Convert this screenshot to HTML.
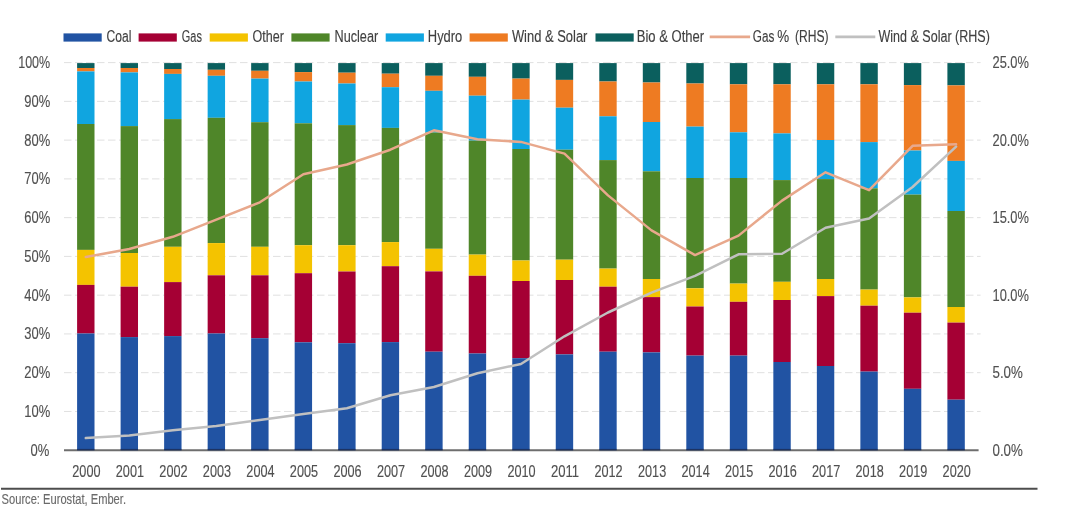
<!DOCTYPE html>
<html><head><meta charset="utf-8"><style>
html,body{margin:0;padding:0;background:#fff;width:1072px;height:520px;overflow:hidden}
text{font-family:"Liberation Sans", sans-serif}
</style></head><body>
<svg width="1072" height="520" viewBox="0 0 1072 520" style="display:block">
<rect width="1072" height="520" fill="#fff"/>
<line x1="64.0" y1="411.44" x2="980.6" y2="411.44" stroke="#e0e0e0" stroke-width="1" stroke-dasharray="7.5 3.5"/>
<line x1="64.0" y1="372.68" x2="980.6" y2="372.68" stroke="#e0e0e0" stroke-width="1" stroke-dasharray="7.5 3.5"/>
<line x1="64.0" y1="333.92" x2="980.6" y2="333.92" stroke="#e0e0e0" stroke-width="1" stroke-dasharray="7.5 3.5"/>
<line x1="64.0" y1="295.16" x2="980.6" y2="295.16" stroke="#e0e0e0" stroke-width="1" stroke-dasharray="7.5 3.5"/>
<line x1="64.0" y1="256.40" x2="980.6" y2="256.40" stroke="#e0e0e0" stroke-width="1" stroke-dasharray="7.5 3.5"/>
<line x1="64.0" y1="217.64" x2="980.6" y2="217.64" stroke="#e0e0e0" stroke-width="1" stroke-dasharray="7.5 3.5"/>
<line x1="64.0" y1="178.88" x2="980.6" y2="178.88" stroke="#e0e0e0" stroke-width="1" stroke-dasharray="7.5 3.5"/>
<line x1="64.0" y1="140.12" x2="980.6" y2="140.12" stroke="#e0e0e0" stroke-width="1" stroke-dasharray="7.5 3.5"/>
<line x1="64.0" y1="101.36" x2="980.6" y2="101.36" stroke="#e0e0e0" stroke-width="1" stroke-dasharray="7.5 3.5"/>
<line x1="64.0" y1="62.60" x2="980.6" y2="62.60" stroke="#e0e0e0" stroke-width="1" stroke-dasharray="7.5 3.5"/>
<rect x="77.10" y="63.10" width="17.4" height="4.90" fill="#0b5f5e"/>
<rect x="77.10" y="68.00" width="17.4" height="3.40" fill="#ee7b22"/>
<rect x="77.10" y="71.40" width="17.4" height="52.60" fill="#10a5e0"/>
<rect x="77.10" y="124.00" width="17.4" height="125.90" fill="#4f8629"/>
<rect x="77.10" y="249.90" width="17.4" height="35.00" fill="#f4c300"/>
<rect x="77.10" y="284.90" width="17.4" height="48.60" fill="#a50034"/>
<rect x="77.10" y="333.50" width="17.4" height="116.70" fill="#2153a3"/>
<rect x="120.61" y="63.10" width="17.4" height="4.90" fill="#0b5f5e"/>
<rect x="120.61" y="68.00" width="17.4" height="4.40" fill="#ee7b22"/>
<rect x="120.61" y="72.40" width="17.4" height="53.70" fill="#10a5e0"/>
<rect x="120.61" y="126.10" width="17.4" height="126.90" fill="#4f8629"/>
<rect x="120.61" y="253.00" width="17.4" height="33.70" fill="#f4c300"/>
<rect x="120.61" y="286.70" width="17.4" height="50.40" fill="#a50034"/>
<rect x="120.61" y="337.10" width="17.4" height="113.10" fill="#2153a3"/>
<rect x="164.13" y="63.10" width="17.4" height="5.90" fill="#0b5f5e"/>
<rect x="164.13" y="69.00" width="17.4" height="4.90" fill="#ee7b22"/>
<rect x="164.13" y="73.90" width="17.4" height="45.20" fill="#10a5e0"/>
<rect x="164.13" y="119.10" width="17.4" height="127.70" fill="#4f8629"/>
<rect x="164.13" y="246.80" width="17.4" height="35.30" fill="#f4c300"/>
<rect x="164.13" y="282.10" width="17.4" height="54.00" fill="#a50034"/>
<rect x="164.13" y="336.10" width="17.4" height="114.10" fill="#2153a3"/>
<rect x="207.65" y="63.10" width="17.4" height="6.70" fill="#0b5f5e"/>
<rect x="207.65" y="69.80" width="17.4" height="6.00" fill="#ee7b22"/>
<rect x="207.65" y="75.80" width="17.4" height="42.00" fill="#10a5e0"/>
<rect x="207.65" y="117.80" width="17.4" height="125.30" fill="#4f8629"/>
<rect x="207.65" y="243.10" width="17.4" height="32.20" fill="#f4c300"/>
<rect x="207.65" y="275.30" width="17.4" height="58.20" fill="#a50034"/>
<rect x="207.65" y="333.50" width="17.4" height="116.70" fill="#2153a3"/>
<rect x="251.16" y="63.10" width="17.4" height="7.70" fill="#0b5f5e"/>
<rect x="251.16" y="70.80" width="17.4" height="7.80" fill="#ee7b22"/>
<rect x="251.16" y="78.60" width="17.4" height="43.60" fill="#10a5e0"/>
<rect x="251.16" y="122.20" width="17.4" height="124.60" fill="#4f8629"/>
<rect x="251.16" y="246.80" width="17.4" height="28.50" fill="#f4c300"/>
<rect x="251.16" y="275.30" width="17.4" height="62.90" fill="#a50034"/>
<rect x="251.16" y="338.20" width="17.4" height="112.00" fill="#2153a3"/>
<rect x="294.67" y="63.10" width="17.4" height="9.00" fill="#0b5f5e"/>
<rect x="294.67" y="72.10" width="17.4" height="9.40" fill="#ee7b22"/>
<rect x="294.67" y="81.50" width="17.4" height="41.80" fill="#10a5e0"/>
<rect x="294.67" y="123.30" width="17.4" height="121.90" fill="#4f8629"/>
<rect x="294.67" y="245.20" width="17.4" height="28.00" fill="#f4c300"/>
<rect x="294.67" y="273.20" width="17.4" height="69.10" fill="#a50034"/>
<rect x="294.67" y="342.30" width="17.4" height="107.90" fill="#2153a3"/>
<rect x="338.19" y="63.10" width="17.4" height="9.60" fill="#0b5f5e"/>
<rect x="338.19" y="72.70" width="17.4" height="10.80" fill="#ee7b22"/>
<rect x="338.19" y="83.50" width="17.4" height="41.60" fill="#10a5e0"/>
<rect x="338.19" y="125.10" width="17.4" height="120.10" fill="#4f8629"/>
<rect x="338.19" y="245.20" width="17.4" height="26.30" fill="#f4c300"/>
<rect x="338.19" y="271.50" width="17.4" height="71.70" fill="#a50034"/>
<rect x="338.19" y="343.20" width="17.4" height="107.00" fill="#2153a3"/>
<rect x="381.71" y="63.10" width="17.4" height="10.60" fill="#0b5f5e"/>
<rect x="381.71" y="73.70" width="17.4" height="13.50" fill="#ee7b22"/>
<rect x="381.71" y="87.20" width="17.4" height="40.70" fill="#10a5e0"/>
<rect x="381.71" y="127.90" width="17.4" height="114.20" fill="#4f8629"/>
<rect x="381.71" y="242.10" width="17.4" height="24.10" fill="#f4c300"/>
<rect x="381.71" y="266.20" width="17.4" height="75.90" fill="#a50034"/>
<rect x="381.71" y="342.10" width="17.4" height="108.10" fill="#2153a3"/>
<rect x="425.22" y="63.10" width="17.4" height="12.70" fill="#0b5f5e"/>
<rect x="425.22" y="75.80" width="17.4" height="15.00" fill="#ee7b22"/>
<rect x="425.22" y="90.80" width="17.4" height="41.70" fill="#10a5e0"/>
<rect x="425.22" y="132.50" width="17.4" height="116.30" fill="#4f8629"/>
<rect x="425.22" y="248.80" width="17.4" height="22.60" fill="#f4c300"/>
<rect x="425.22" y="271.40" width="17.4" height="80.30" fill="#a50034"/>
<rect x="425.22" y="351.70" width="17.4" height="98.50" fill="#2153a3"/>
<rect x="468.74" y="63.10" width="17.4" height="13.70" fill="#0b5f5e"/>
<rect x="468.74" y="76.80" width="17.4" height="18.90" fill="#ee7b22"/>
<rect x="468.74" y="95.70" width="17.4" height="44.90" fill="#10a5e0"/>
<rect x="468.74" y="140.60" width="17.4" height="114.00" fill="#4f8629"/>
<rect x="468.74" y="254.60" width="17.4" height="21.20" fill="#f4c300"/>
<rect x="468.74" y="275.80" width="17.4" height="77.70" fill="#a50034"/>
<rect x="468.74" y="353.50" width="17.4" height="96.70" fill="#2153a3"/>
<rect x="512.25" y="63.10" width="17.4" height="15.50" fill="#0b5f5e"/>
<rect x="512.25" y="78.60" width="17.4" height="21.00" fill="#ee7b22"/>
<rect x="512.25" y="99.60" width="17.4" height="49.40" fill="#10a5e0"/>
<rect x="512.25" y="149.00" width="17.4" height="111.50" fill="#4f8629"/>
<rect x="512.25" y="260.50" width="17.4" height="20.50" fill="#f4c300"/>
<rect x="512.25" y="281.00" width="17.4" height="77.20" fill="#a50034"/>
<rect x="512.25" y="358.20" width="17.4" height="92.00" fill="#2153a3"/>
<rect x="555.76" y="63.10" width="17.4" height="16.80" fill="#0b5f5e"/>
<rect x="555.76" y="79.90" width="17.4" height="27.80" fill="#ee7b22"/>
<rect x="555.76" y="107.70" width="17.4" height="42.00" fill="#10a5e0"/>
<rect x="555.76" y="149.70" width="17.4" height="110.00" fill="#4f8629"/>
<rect x="555.76" y="259.70" width="17.4" height="20.30" fill="#f4c300"/>
<rect x="555.76" y="280.00" width="17.4" height="74.40" fill="#a50034"/>
<rect x="555.76" y="354.40" width="17.4" height="95.80" fill="#2153a3"/>
<rect x="599.28" y="63.10" width="17.4" height="18.40" fill="#0b5f5e"/>
<rect x="599.28" y="81.50" width="17.4" height="34.80" fill="#ee7b22"/>
<rect x="599.28" y="116.30" width="17.4" height="43.80" fill="#10a5e0"/>
<rect x="599.28" y="160.10" width="17.4" height="108.50" fill="#4f8629"/>
<rect x="599.28" y="268.60" width="17.4" height="18.10" fill="#f4c300"/>
<rect x="599.28" y="286.70" width="17.4" height="65.00" fill="#a50034"/>
<rect x="599.28" y="351.70" width="17.4" height="98.50" fill="#2153a3"/>
<rect x="642.80" y="63.10" width="17.4" height="19.40" fill="#0b5f5e"/>
<rect x="642.80" y="82.50" width="17.4" height="39.50" fill="#ee7b22"/>
<rect x="642.80" y="122.00" width="17.4" height="49.30" fill="#10a5e0"/>
<rect x="642.80" y="171.30" width="17.4" height="107.70" fill="#4f8629"/>
<rect x="642.80" y="279.00" width="17.4" height="18.10" fill="#f4c300"/>
<rect x="642.80" y="297.10" width="17.4" height="55.30" fill="#a50034"/>
<rect x="642.80" y="352.40" width="17.4" height="97.80" fill="#2153a3"/>
<rect x="686.31" y="63.10" width="17.4" height="20.40" fill="#0b5f5e"/>
<rect x="686.31" y="83.50" width="17.4" height="43.10" fill="#ee7b22"/>
<rect x="686.31" y="126.60" width="17.4" height="51.40" fill="#10a5e0"/>
<rect x="686.31" y="178.00" width="17.4" height="110.30" fill="#4f8629"/>
<rect x="686.31" y="288.30" width="17.4" height="18.20" fill="#f4c300"/>
<rect x="686.31" y="306.50" width="17.4" height="49.10" fill="#a50034"/>
<rect x="686.31" y="355.60" width="17.4" height="94.60" fill="#2153a3"/>
<rect x="729.83" y="63.10" width="17.4" height="21.20" fill="#0b5f5e"/>
<rect x="729.83" y="84.30" width="17.4" height="48.00" fill="#ee7b22"/>
<rect x="729.83" y="132.30" width="17.4" height="45.70" fill="#10a5e0"/>
<rect x="729.83" y="178.00" width="17.4" height="105.60" fill="#4f8629"/>
<rect x="729.83" y="283.60" width="17.4" height="18.20" fill="#f4c300"/>
<rect x="729.83" y="301.80" width="17.4" height="53.80" fill="#a50034"/>
<rect x="729.83" y="355.60" width="17.4" height="94.60" fill="#2153a3"/>
<rect x="773.34" y="63.10" width="17.4" height="21.20" fill="#0b5f5e"/>
<rect x="773.34" y="84.30" width="17.4" height="49.10" fill="#ee7b22"/>
<rect x="773.34" y="133.40" width="17.4" height="46.70" fill="#10a5e0"/>
<rect x="773.34" y="180.10" width="17.4" height="101.70" fill="#4f8629"/>
<rect x="773.34" y="281.80" width="17.4" height="18.20" fill="#f4c300"/>
<rect x="773.34" y="300.00" width="17.4" height="62.00" fill="#a50034"/>
<rect x="773.34" y="362.00" width="17.4" height="88.20" fill="#2153a3"/>
<rect x="816.86" y="63.10" width="17.4" height="21.20" fill="#0b5f5e"/>
<rect x="816.86" y="84.30" width="17.4" height="55.70" fill="#ee7b22"/>
<rect x="816.86" y="140.00" width="17.4" height="39.10" fill="#10a5e0"/>
<rect x="816.86" y="179.10" width="17.4" height="99.90" fill="#4f8629"/>
<rect x="816.86" y="279.00" width="17.4" height="17.10" fill="#f4c300"/>
<rect x="816.86" y="296.10" width="17.4" height="69.90" fill="#a50034"/>
<rect x="816.86" y="366.00" width="17.4" height="84.20" fill="#2153a3"/>
<rect x="860.37" y="63.10" width="17.4" height="21.20" fill="#0b5f5e"/>
<rect x="860.37" y="84.30" width="17.4" height="57.80" fill="#ee7b22"/>
<rect x="860.37" y="142.10" width="17.4" height="46.20" fill="#10a5e0"/>
<rect x="860.37" y="188.30" width="17.4" height="101.30" fill="#4f8629"/>
<rect x="860.37" y="289.60" width="17.4" height="16.10" fill="#f4c300"/>
<rect x="860.37" y="305.70" width="17.4" height="65.90" fill="#a50034"/>
<rect x="860.37" y="371.60" width="17.4" height="78.60" fill="#2153a3"/>
<rect x="903.88" y="63.10" width="17.4" height="22.00" fill="#0b5f5e"/>
<rect x="903.88" y="85.10" width="17.4" height="65.40" fill="#ee7b22"/>
<rect x="903.88" y="150.50" width="17.4" height="44.10" fill="#10a5e0"/>
<rect x="903.88" y="194.60" width="17.4" height="102.80" fill="#4f8629"/>
<rect x="903.88" y="297.40" width="17.4" height="15.30" fill="#f4c300"/>
<rect x="903.88" y="312.70" width="17.4" height="76.10" fill="#a50034"/>
<rect x="903.88" y="388.80" width="17.4" height="61.40" fill="#2153a3"/>
<rect x="947.40" y="63.10" width="17.4" height="22.30" fill="#0b5f5e"/>
<rect x="947.40" y="85.40" width="17.4" height="75.50" fill="#ee7b22"/>
<rect x="947.40" y="160.90" width="17.4" height="50.10" fill="#10a5e0"/>
<rect x="947.40" y="211.00" width="17.4" height="96.00" fill="#4f8629"/>
<rect x="947.40" y="307.00" width="17.4" height="15.60" fill="#f4c300"/>
<rect x="947.40" y="322.60" width="17.4" height="77.10" fill="#a50034"/>
<rect x="947.40" y="399.70" width="17.4" height="50.50" fill="#2153a3"/>
<line x1="64.0" y1="450.2" x2="978.6" y2="450.2" stroke="#6e6e6e" stroke-width="2"/>
<rect x="77.10" y="448.9" width="17.4" height="1.5" fill="#1c3262"/>
<rect x="120.61" y="448.9" width="17.4" height="1.5" fill="#1c3262"/>
<rect x="164.13" y="448.9" width="17.4" height="1.5" fill="#1c3262"/>
<rect x="207.65" y="448.9" width="17.4" height="1.5" fill="#1c3262"/>
<rect x="251.16" y="448.9" width="17.4" height="1.5" fill="#1c3262"/>
<rect x="294.67" y="448.9" width="17.4" height="1.5" fill="#1c3262"/>
<rect x="338.19" y="448.9" width="17.4" height="1.5" fill="#1c3262"/>
<rect x="381.71" y="448.9" width="17.4" height="1.5" fill="#1c3262"/>
<rect x="425.22" y="448.9" width="17.4" height="1.5" fill="#1c3262"/>
<rect x="468.74" y="448.9" width="17.4" height="1.5" fill="#1c3262"/>
<rect x="512.25" y="448.9" width="17.4" height="1.5" fill="#1c3262"/>
<rect x="555.76" y="448.9" width="17.4" height="1.5" fill="#1c3262"/>
<rect x="599.28" y="448.9" width="17.4" height="1.5" fill="#1c3262"/>
<rect x="642.80" y="448.9" width="17.4" height="1.5" fill="#1c3262"/>
<rect x="686.31" y="448.9" width="17.4" height="1.5" fill="#1c3262"/>
<rect x="729.83" y="448.9" width="17.4" height="1.5" fill="#1c3262"/>
<rect x="773.34" y="448.9" width="17.4" height="1.5" fill="#1c3262"/>
<rect x="816.86" y="448.9" width="17.4" height="1.5" fill="#1c3262"/>
<rect x="860.37" y="448.9" width="17.4" height="1.5" fill="#1c3262"/>
<rect x="903.88" y="448.9" width="17.4" height="1.5" fill="#1c3262"/>
<rect x="947.40" y="448.9" width="17.4" height="1.5" fill="#1c3262"/>
<polyline points="85.80,438.10 129.31,435.50 172.83,430.30 216.34,425.90 259.86,419.90 303.37,414.00 346.89,408.20 390.41,395.30 433.92,387.00 477.44,373.20 520.95,364.00 564.47,336.30 607.98,312.50 651.50,292.70 695.01,275.80 738.53,254.30 782.04,253.80 825.56,227.80 869.07,218.50 912.59,187.00 956.10,146.60" fill="none" stroke="#c0c0c0" stroke-width="2.5" stroke-linejoin="round" stroke-linecap="round"/>
<polyline points="85.80,257.10 129.31,249.00 172.83,236.80 216.34,219.70 259.86,202.30 303.37,174.20 346.89,164.50 390.41,149.70 433.92,130.30 477.44,139.30 520.95,141.90 564.47,153.60 607.98,195.40 651.50,230.40 695.01,255.10 738.53,235.60 782.04,200.60 825.56,172.30 869.07,190.20 912.59,145.80 956.10,144.30" fill="none" stroke="#e8a88c" stroke-width="2.5" stroke-linejoin="round" stroke-linecap="round"/>
<rect x="63.5" y="33.4" width="38.2" height="8.2" fill="#2153a3"/>
<rect x="138.6" y="33.4" width="38.2" height="8.2" fill="#a50034"/>
<rect x="209.7" y="33.4" width="38.2" height="8.2" fill="#f4c300"/>
<rect x="291.4" y="33.4" width="38.2" height="8.2" fill="#4f8629"/>
<rect x="385.7" y="33.4" width="38.2" height="8.2" fill="#10a5e0"/>
<rect x="469.6" y="33.4" width="38.2" height="8.2" fill="#ee7b22"/>
<rect x="595.5" y="33.4" width="38.2" height="8.2" fill="#0b5f5e"/>
<line x1="709.7" y1="36.9" x2="750.1" y2="36.9" stroke="#e8a88c" stroke-width="2.6"/>
<line x1="835.3" y1="36.9" x2="875.3" y2="36.9" stroke="#c0c0c0" stroke-width="2.6"/>
<line x1="1" y1="488.8" x2="1037.5" y2="488.8" stroke="#4d4d4d" stroke-width="2"/>
<g style="filter:grayscale(1)">
<text x="30.40" y="455.70" font-family='"Liberation Sans", sans-serif' font-size="17.2" fill="#505050" stroke="#505050" stroke-width="0.15" text-anchor="start" textLength="18.80" lengthAdjust="spacingAndGlyphs">0%</text>
<text x="24.30" y="416.94" font-family='"Liberation Sans", sans-serif' font-size="17.2" fill="#505050" stroke="#505050" stroke-width="0.15" text-anchor="start" textLength="25.90" lengthAdjust="spacingAndGlyphs">10%</text>
<text x="24.30" y="378.18" font-family='"Liberation Sans", sans-serif' font-size="17.2" fill="#505050" stroke="#505050" stroke-width="0.15" text-anchor="start" textLength="25.90" lengthAdjust="spacingAndGlyphs">20%</text>
<text x="24.30" y="339.42" font-family='"Liberation Sans", sans-serif' font-size="17.2" fill="#505050" stroke="#505050" stroke-width="0.15" text-anchor="start" textLength="25.90" lengthAdjust="spacingAndGlyphs">30%</text>
<text x="24.30" y="300.66" font-family='"Liberation Sans", sans-serif' font-size="17.2" fill="#505050" stroke="#505050" stroke-width="0.15" text-anchor="start" textLength="25.90" lengthAdjust="spacingAndGlyphs">40%</text>
<text x="24.30" y="261.90" font-family='"Liberation Sans", sans-serif' font-size="17.2" fill="#505050" stroke="#505050" stroke-width="0.15" text-anchor="start" textLength="25.90" lengthAdjust="spacingAndGlyphs">50%</text>
<text x="24.30" y="223.14" font-family='"Liberation Sans", sans-serif' font-size="17.2" fill="#505050" stroke="#505050" stroke-width="0.15" text-anchor="start" textLength="25.90" lengthAdjust="spacingAndGlyphs">60%</text>
<text x="24.30" y="184.38" font-family='"Liberation Sans", sans-serif' font-size="17.2" fill="#505050" stroke="#505050" stroke-width="0.15" text-anchor="start" textLength="25.90" lengthAdjust="spacingAndGlyphs">70%</text>
<text x="24.30" y="145.62" font-family='"Liberation Sans", sans-serif' font-size="17.2" fill="#505050" stroke="#505050" stroke-width="0.15" text-anchor="start" textLength="25.90" lengthAdjust="spacingAndGlyphs">80%</text>
<text x="24.30" y="106.86" font-family='"Liberation Sans", sans-serif' font-size="17.2" fill="#505050" stroke="#505050" stroke-width="0.15" text-anchor="start" textLength="25.90" lengthAdjust="spacingAndGlyphs">90%</text>
<text x="18.20" y="68.10" font-family='"Liberation Sans", sans-serif' font-size="17.2" fill="#505050" stroke="#505050" stroke-width="0.15" text-anchor="start" textLength="32.00" lengthAdjust="spacingAndGlyphs">100%</text>
<text x="992.50" y="455.70" font-family='"Liberation Sans", sans-serif' font-size="17.2" fill="#505050" stroke="#505050" stroke-width="0.15" text-anchor="start" textLength="30.30" lengthAdjust="spacingAndGlyphs">0.0%</text>
<text x="992.50" y="378.18" font-family='"Liberation Sans", sans-serif' font-size="17.2" fill="#505050" stroke="#505050" stroke-width="0.15" text-anchor="start" textLength="30.30" lengthAdjust="spacingAndGlyphs">5.0%</text>
<text x="992.50" y="300.66" font-family='"Liberation Sans", sans-serif' font-size="17.2" fill="#505050" stroke="#505050" stroke-width="0.15" text-anchor="start" textLength="36.40" lengthAdjust="spacingAndGlyphs">10.0%</text>
<text x="992.50" y="223.14" font-family='"Liberation Sans", sans-serif' font-size="17.2" fill="#505050" stroke="#505050" stroke-width="0.15" text-anchor="start" textLength="36.40" lengthAdjust="spacingAndGlyphs">15.0%</text>
<text x="992.50" y="145.62" font-family='"Liberation Sans", sans-serif' font-size="17.2" fill="#505050" stroke="#505050" stroke-width="0.15" text-anchor="start" textLength="36.40" lengthAdjust="spacingAndGlyphs">20.0%</text>
<text x="992.50" y="68.10" font-family='"Liberation Sans", sans-serif' font-size="17.2" fill="#505050" stroke="#505050" stroke-width="0.15" text-anchor="start" textLength="36.40" lengthAdjust="spacingAndGlyphs">25.0%</text>
<text x="72.30" y="476.60" font-family='"Liberation Sans", sans-serif' font-size="17.2" fill="#505050" stroke="#505050" stroke-width="0.15" text-anchor="start" textLength="28.20" lengthAdjust="spacingAndGlyphs">2000</text>
<text x="115.82" y="476.60" font-family='"Liberation Sans", sans-serif' font-size="17.2" fill="#505050" stroke="#505050" stroke-width="0.15" text-anchor="start" textLength="28.20" lengthAdjust="spacingAndGlyphs">2001</text>
<text x="159.33" y="476.60" font-family='"Liberation Sans", sans-serif' font-size="17.2" fill="#505050" stroke="#505050" stroke-width="0.15" text-anchor="start" textLength="28.20" lengthAdjust="spacingAndGlyphs">2002</text>
<text x="202.85" y="476.60" font-family='"Liberation Sans", sans-serif' font-size="17.2" fill="#505050" stroke="#505050" stroke-width="0.15" text-anchor="start" textLength="28.20" lengthAdjust="spacingAndGlyphs">2003</text>
<text x="246.36" y="476.60" font-family='"Liberation Sans", sans-serif' font-size="17.2" fill="#505050" stroke="#505050" stroke-width="0.15" text-anchor="start" textLength="28.20" lengthAdjust="spacingAndGlyphs">2004</text>
<text x="289.87" y="476.60" font-family='"Liberation Sans", sans-serif' font-size="17.2" fill="#505050" stroke="#505050" stroke-width="0.15" text-anchor="start" textLength="28.20" lengthAdjust="spacingAndGlyphs">2005</text>
<text x="333.39" y="476.60" font-family='"Liberation Sans", sans-serif' font-size="17.2" fill="#505050" stroke="#505050" stroke-width="0.15" text-anchor="start" textLength="28.20" lengthAdjust="spacingAndGlyphs">2006</text>
<text x="376.91" y="476.60" font-family='"Liberation Sans", sans-serif' font-size="17.2" fill="#505050" stroke="#505050" stroke-width="0.15" text-anchor="start" textLength="28.20" lengthAdjust="spacingAndGlyphs">2007</text>
<text x="420.42" y="476.60" font-family='"Liberation Sans", sans-serif' font-size="17.2" fill="#505050" stroke="#505050" stroke-width="0.15" text-anchor="start" textLength="28.20" lengthAdjust="spacingAndGlyphs">2008</text>
<text x="463.94" y="476.60" font-family='"Liberation Sans", sans-serif' font-size="17.2" fill="#505050" stroke="#505050" stroke-width="0.15" text-anchor="start" textLength="28.20" lengthAdjust="spacingAndGlyphs">2009</text>
<text x="507.45" y="476.60" font-family='"Liberation Sans", sans-serif' font-size="17.2" fill="#505050" stroke="#505050" stroke-width="0.15" text-anchor="start" textLength="28.20" lengthAdjust="spacingAndGlyphs">2010</text>
<text x="550.96" y="476.60" font-family='"Liberation Sans", sans-serif' font-size="17.2" fill="#505050" stroke="#505050" stroke-width="0.15" text-anchor="start" textLength="28.20" lengthAdjust="spacingAndGlyphs">2011</text>
<text x="594.48" y="476.60" font-family='"Liberation Sans", sans-serif' font-size="17.2" fill="#505050" stroke="#505050" stroke-width="0.15" text-anchor="start" textLength="28.20" lengthAdjust="spacingAndGlyphs">2012</text>
<text x="638.00" y="476.60" font-family='"Liberation Sans", sans-serif' font-size="17.2" fill="#505050" stroke="#505050" stroke-width="0.15" text-anchor="start" textLength="28.20" lengthAdjust="spacingAndGlyphs">2013</text>
<text x="681.51" y="476.60" font-family='"Liberation Sans", sans-serif' font-size="17.2" fill="#505050" stroke="#505050" stroke-width="0.15" text-anchor="start" textLength="28.20" lengthAdjust="spacingAndGlyphs">2014</text>
<text x="725.02" y="476.60" font-family='"Liberation Sans", sans-serif' font-size="17.2" fill="#505050" stroke="#505050" stroke-width="0.15" text-anchor="start" textLength="28.20" lengthAdjust="spacingAndGlyphs">2015</text>
<text x="768.54" y="476.60" font-family='"Liberation Sans", sans-serif' font-size="17.2" fill="#505050" stroke="#505050" stroke-width="0.15" text-anchor="start" textLength="28.20" lengthAdjust="spacingAndGlyphs">2016</text>
<text x="812.05" y="476.60" font-family='"Liberation Sans", sans-serif' font-size="17.2" fill="#505050" stroke="#505050" stroke-width="0.15" text-anchor="start" textLength="28.20" lengthAdjust="spacingAndGlyphs">2017</text>
<text x="855.57" y="476.60" font-family='"Liberation Sans", sans-serif' font-size="17.2" fill="#505050" stroke="#505050" stroke-width="0.15" text-anchor="start" textLength="28.20" lengthAdjust="spacingAndGlyphs">2018</text>
<text x="899.08" y="476.60" font-family='"Liberation Sans", sans-serif' font-size="17.2" fill="#505050" stroke="#505050" stroke-width="0.15" text-anchor="start" textLength="28.20" lengthAdjust="spacingAndGlyphs">2019</text>
<text x="942.60" y="476.60" font-family='"Liberation Sans", sans-serif' font-size="17.2" fill="#505050" stroke="#505050" stroke-width="0.15" text-anchor="start" textLength="28.20" lengthAdjust="spacingAndGlyphs">2020</text>
<text x="106.60" y="41.60" font-family='"Liberation Sans", sans-serif' font-size="17.2" fill="#404040" stroke="#404040" stroke-width="0.15" text-anchor="start" textLength="24.90" lengthAdjust="spacingAndGlyphs">Coal</text>
<text x="181.80" y="41.60" font-family='"Liberation Sans", sans-serif' font-size="17.2" fill="#404040" stroke="#404040" stroke-width="0.15" text-anchor="start" textLength="20.10" lengthAdjust="spacingAndGlyphs">Gas</text>
<text x="252.50" y="41.60" font-family='"Liberation Sans", sans-serif' font-size="17.2" fill="#404040" stroke="#404040" stroke-width="0.15" text-anchor="start" textLength="31.40" lengthAdjust="spacingAndGlyphs">Other</text>
<text x="334.50" y="41.60" font-family='"Liberation Sans", sans-serif' font-size="17.2" fill="#404040" stroke="#404040" stroke-width="0.15" text-anchor="start" textLength="43.70" lengthAdjust="spacingAndGlyphs">Nuclear</text>
<text x="427.80" y="41.60" font-family='"Liberation Sans", sans-serif' font-size="17.2" fill="#404040" stroke="#404040" stroke-width="0.15" text-anchor="start" textLength="34.50" lengthAdjust="spacingAndGlyphs">Hydro</text>
<text x="511.90" y="41.60" font-family='"Liberation Sans", sans-serif' font-size="17.2" fill="#404040" stroke="#404040" stroke-width="0.15" text-anchor="start" textLength="75.50" lengthAdjust="spacingAndGlyphs">Wind &amp; Solar</text>
<text x="636.80" y="41.60" font-family='"Liberation Sans", sans-serif' font-size="17.2" fill="#404040" stroke="#404040" stroke-width="0.15" text-anchor="start" textLength="67.30" lengthAdjust="spacingAndGlyphs">Bio &amp; Other</text>
<text x="752.80" y="41.60" font-family='"Liberation Sans", sans-serif' font-size="17.2" fill="#404040" stroke="#404040" stroke-width="0.15" text-anchor="start" textLength="21.50" lengthAdjust="spacingAndGlyphs">Gas</text>
<text x="777.30" y="41.60" font-family='"Liberation Sans", sans-serif' font-size="17.2" fill="#404040" stroke="#404040" stroke-width="0.15" text-anchor="start" textLength="11.90" lengthAdjust="spacingAndGlyphs">%</text>
<text x="795.00" y="41.60" font-family='"Liberation Sans", sans-serif' font-size="17.2" fill="#404040" stroke="#404040" stroke-width="0.15" text-anchor="start" textLength="33.60" lengthAdjust="spacingAndGlyphs">(RHS)</text>
<text x="878.50" y="41.60" font-family='"Liberation Sans", sans-serif' font-size="17.2" fill="#404040" stroke="#404040" stroke-width="0.15" text-anchor="start" textLength="111.30" lengthAdjust="spacingAndGlyphs">Wind &amp; Solar (RHS)</text>
<text x="1.60" y="503.80" font-family='"Liberation Sans", sans-serif' font-size="14.4" fill="#6a6a6a" stroke="#6a6a6a" stroke-width="0.15" text-anchor="start" textLength="124.40" lengthAdjust="spacingAndGlyphs">Source: Eurostat, Ember.</text>
</g>
</svg>
</body></html>
